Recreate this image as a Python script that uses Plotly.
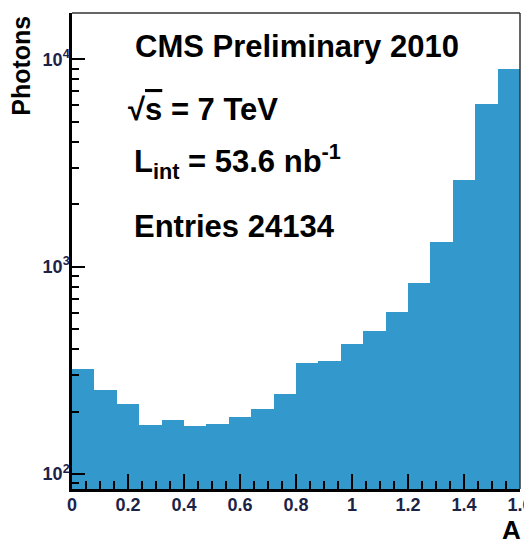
import plotly.graph_objects as go

# histogram of A, 20 bins of width 0.08 between 0 and 1.6
bin_low = [0.00, 0.08, 0.16, 0.24, 0.32, 0.40, 0.48, 0.56, 0.64, 0.72,
           0.80, 0.88, 0.96, 1.04, 1.12, 1.20, 1.28, 1.36, 1.44, 1.52]
bin_width = 0.08
photons = [321, 255, 217, 172, 183, 171, 175, 188, 206, 242,
           344, 351, 424, 487, 603, 830, 1321, 2617, 6053, 8974]

x_ticks = [0, 0.2, 0.4, 0.6, 0.8, 1.0, 1.2, 1.4, 1.6]
x_labels = ["0", "0.2", "0.4", "0.6", "0.8", "1", "1.2", "1.4", "1.6"]
y_ticks = [100, 1000, 10000]
y_labels = ["10<sup>2</sup>", "10<sup>3</sup>", "10<sup>4</sup>"]

y_minor = [90] + [m * 10 ** e for e in (2, 3) for m in range(2, 10)]
x_minor = [i * 0.05 for i in range(33)]

FONT = "Liberation Sans, Arial, sans-serif"
TICK_COL = "#1c2348"

fig = go.Figure(
    go.Bar(
        x=bin_low,
        y=photons,
        width=bin_width,
        offset=0,
        marker=dict(color="#3398cb", line=dict(width=0)),
    )
)

# the page body has an 8px margin, so the figure is 8px smaller and margins shifted
fig.update_layout(
    width=524,
    height=536,
    margin=dict(l=64, r=12, t=5, b=55, autoexpand=False),
    paper_bgcolor="white",
    plot_bgcolor="white",
    bargap=0,
    showlegend=False,
    font=dict(family=FONT),
)

fig.update_xaxes(
    range=[0, 1.6],
    tickvals=x_ticks,
    ticktext=x_labels,
    ticks="inside",
    ticklen=15,
    tickwidth=2,
    tickcolor="black",
    showline=True,
    linewidth=2.5,
    linecolor="black",
    showgrid=False,
    zeroline=False,
    ticklabelstandoff=-2,
    ticklabeloverflow="allow",
    tickfont=dict(size=18, color=TICK_COL, weight="bold"),
    minor=dict(tickvals=x_minor, ticks="inside", ticklen=8, tickwidth=2,
               tickcolor="black", showgrid=False),
)

fig.update_yaxes(
    type="log",
    range=[1.9277, 4.2227],
    tickvals=y_ticks,
    ticktext=y_labels,
    ticks="inside",
    ticklen=13,
    tickwidth=2,
    tickcolor="black",
    showline=True,
    linewidth=2.5,
    linecolor="black",
    showgrid=False,
    zeroline=False,
    ticklabelstandoff=-4,
    ticklabeloverflow="allow",
    tickfont=dict(size=18, color=TICK_COL, weight="bold"),
    minor=dict(tickvals=y_minor, ticks="inside", ticklen=7, tickwidth=2,
               tickcolor="black", showgrid=False),
)

# thin frame on top and right
fig.add_shape(type="line", xref="paper", yref="paper", x0=0, x1=1, y0=1, y1=1,
              line=dict(color="#333333", width=1.5))
fig.add_shape(type="line", xref="paper", yref="paper", x0=1, x1=1, y0=0, y1=1,
              line=dict(color="#333333", width=1.5))

big = dict(family=FONT, size=31, color="black", weight="bold")
labels = [
    (0.137, 0.9296, "CMS Preliminary 2010"),
    (0.121, 0.798, "√<span style='text-decoration:overline'>s</span> = 7 TeV"),
    (0.135, 0.689, "L<sub>int</sub> = 53.6 nb<sup>-1</sup>"),
    (0.135, 0.5525, "Entries 24134"),
]
for x, y, t in labels:
    fig.add_annotation(x=x, y=y, xref="paper", yref="paper", text=t,
                       showarrow=False, xanchor="left", yanchor="middle",
                       font=big)

fig.add_annotation(x=-0.113, y=0.89, xref="paper", yref="paper",
                   text="Photons", textangle=-90, showarrow=False,
                   xanchor="center", yanchor="middle",
                   font=dict(family=FONT, size=25, color="black", weight="bold"))
fig.add_annotation(x=0.98, y=-0.052, xref="paper", yref="paper",
                   text="A", showarrow=False, borderpad=0,
                   xanchor="center", yanchor="top",
                   font=dict(family=FONT, size=26, color="black", weight="bold"))

fig.write_html("out.html")
